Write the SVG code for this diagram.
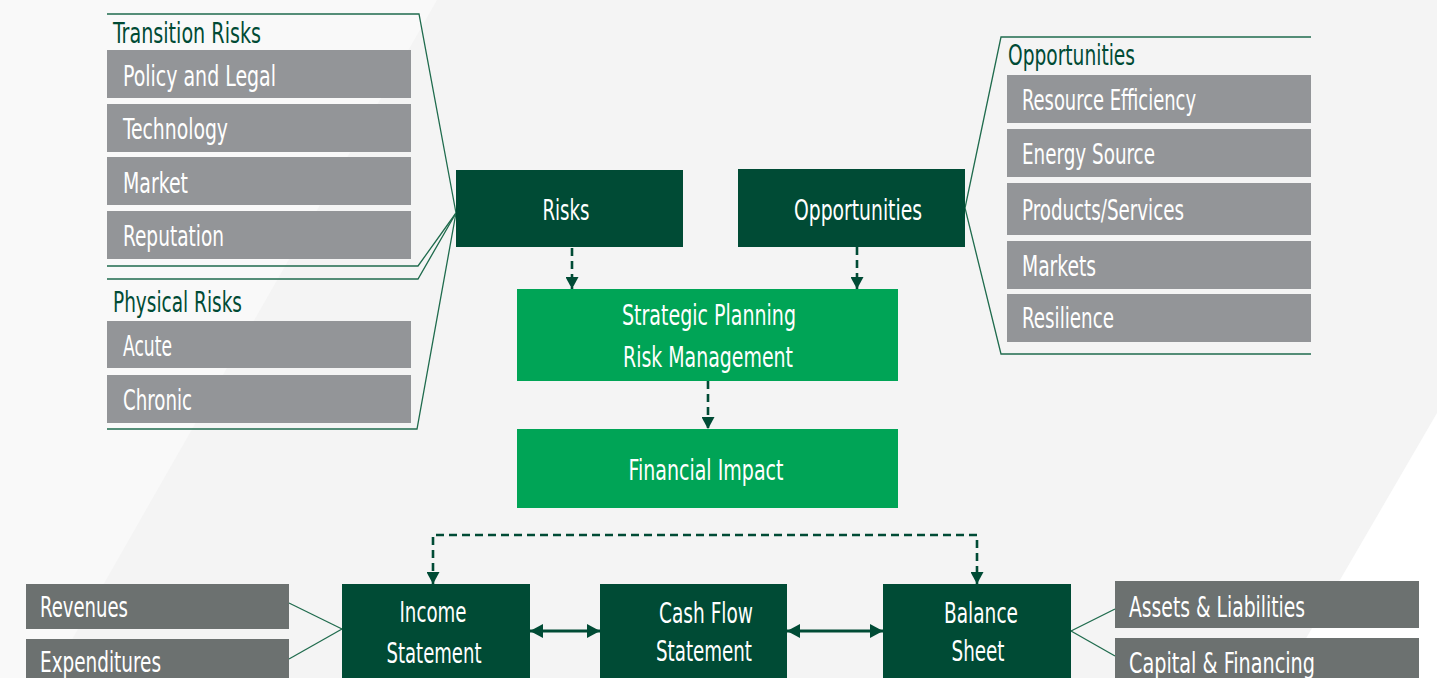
<svg xmlns="http://www.w3.org/2000/svg" width="1437" height="678" viewBox="0 0 1437 678">
  <defs>
    <style>
      text { font-family: 'Liberation Sans Narrow', 'DejaVu Sans Condensed', 'Liberation Sans', sans-serif; font-stretch: condensed; font-size: 28px; }
      .item { fill: #939598; }
      .fin { fill: #6c7170; }
      .dark { fill: #004b35; }
      .bright { fill: #00a456; }
      .lbl { fill: #ffffff; }
      .head { fill: #004b35; }
      .mid { text-anchor: middle; }
      .bracket { fill: none; stroke: #1f6b4d; stroke-width: 1.3; }
      .dash { fill: none; stroke: #004b35; stroke-width: 2.6; stroke-dasharray: 8 5; }
      .link { fill: none; stroke: #004b35; stroke-width: 3; }
      .spoke { fill: none; stroke: #1f6b4d; stroke-width: 1.3; }
    </style>
    <marker id="ah" markerWidth="13" markerHeight="13" refX="12" refY="6.5" orient="auto-start-reverse" markerUnits="userSpaceOnUse">
      <path d="M0,0 L12,6.5 L0,13 z" fill="#004b35"/>
    </marker>
    <marker id="dh" markerWidth="14" markerHeight="14" refX="13" refY="7" orient="auto-start-reverse" markerUnits="userSpaceOnUse">
      <path d="M0,0 L13,7 L0,14 z" fill="#004b35"/>
    </marker>
  </defs>

  <!-- background planes -->
  <rect x="0" y="0" width="1437" height="678" fill="#f4f4f4"/>
  <polygon points="0,0 437,0 50,678 0,678" fill="#f9f9f9"/>
  <polygon points="1437,413 1437,678 1283,678" fill="#ffffff"/>

  <!-- connectors -->
  <g id="connectors">
    <!-- brackets gathering the risk lists into the Risks box -->
    <path class="bracket" d="M107,14 H419 L456,213"/>
    <path class="bracket" d="M107,266 H418 L456,213"/>
    <path class="bracket" d="M107,279 H418 L456,213"/>
    <path class="bracket" d="M107,429 H417 L456,213"/>
    <!-- bracket around the opportunity list -->
    <path class="bracket" d="M1311,37 H1001 L965,208 L1001,354 H1311"/>
    <!-- flows into planning and impact -->
    <line class="dash" x1="572" y1="248" x2="572" y2="289" marker-end="url(#ah)"/>
    <line class="dash" x1="857" y1="247" x2="857" y2="289" marker-end="url(#ah)"/>
    <line class="dash" x1="708" y1="381" x2="708" y2="429" marker-end="url(#ah)"/>
    <path class="dash" d="M433,584 V535 H977 V584" marker-start="url(#ah)" marker-end="url(#ah)"/>
    <!-- statement links -->
    <line class="link" x1="530" y1="631" x2="600" y2="631" marker-start="url(#dh)" marker-end="url(#dh)"/>
    <line class="link" x1="787" y1="631" x2="883" y2="631" marker-start="url(#dh)" marker-end="url(#dh)"/>
    <!-- line items feeding statements -->
    <line class="spoke" x1="289" y1="603" x2="342" y2="629"/>
    <line class="spoke" x1="289" y1="659" x2="342" y2="629"/>
    <line class="spoke" x1="1071" y1="631" x2="1115" y2="609"/>
    <line class="spoke" x1="1071" y1="631" x2="1115" y2="656"/>
  </g>

  <!-- transition risks -->
  <g id="transition-risks">
    <text class="head" x="113" y="43" textLength="148" lengthAdjust="spacingAndGlyphs">Transition Risks</text>
    <rect class="item" x="107" y="50" width="304" height="48"/>
    <text class="lbl" x="123" y="86" textLength="153" lengthAdjust="spacingAndGlyphs">Policy and Legal</text>
    <rect class="item" x="107" y="104" width="304" height="48"/>
    <text class="lbl" x="123" y="139" textLength="105" lengthAdjust="spacingAndGlyphs">Technology</text>
    <rect class="item" x="107" y="157" width="304" height="48"/>
    <text class="lbl" x="123" y="193" textLength="65" lengthAdjust="spacingAndGlyphs">Market</text>
    <rect class="item" x="107" y="211" width="304" height="48"/>
    <text class="lbl" x="123" y="246" textLength="101" lengthAdjust="spacingAndGlyphs">Reputation</text>
  </g>

  <!-- physical risks -->
  <g id="physical-risks">
    <text class="head" x="113" y="312" textLength="129" lengthAdjust="spacingAndGlyphs">Physical Risks</text>
    <rect class="item" x="107" y="321" width="304" height="47"/>
    <text class="lbl" x="123" y="356" textLength="49" lengthAdjust="spacingAndGlyphs">Acute</text>
    <rect class="item" x="107" y="375" width="304" height="48"/>
    <text class="lbl" x="123" y="410" textLength="69" lengthAdjust="spacingAndGlyphs">Chronic</text>
  </g>

  <!-- opportunity list -->
  <g id="opportunity-list">
    <text class="head" x="1008" y="65" textLength="127" lengthAdjust="spacingAndGlyphs">Opportunities</text>
    <rect class="item" x="1007" y="75" width="304" height="48"/>
    <text class="lbl" x="1022" y="110" textLength="174" lengthAdjust="spacingAndGlyphs">Resource Efficiency</text>
    <rect class="item" x="1007" y="129" width="304" height="48"/>
    <text class="lbl" x="1022" y="164" textLength="133" lengthAdjust="spacingAndGlyphs">Energy Source</text>
    <rect class="item" x="1007" y="183" width="304" height="52"/>
    <text class="lbl" x="1022" y="220" textLength="162" lengthAdjust="spacingAndGlyphs">Products/Services</text>
    <rect class="item" x="1007" y="241" width="304" height="48"/>
    <text class="lbl" x="1022" y="276" textLength="74" lengthAdjust="spacingAndGlyphs">Markets</text>
    <rect class="item" x="1007" y="294" width="304" height="48"/>
    <text class="lbl" x="1022" y="328" textLength="92" lengthAdjust="spacingAndGlyphs">Resilience</text>
  </g>

  <g id="risks">
    <rect class="dark" x="456" y="170" width="227" height="77"/>
    <text class="lbl mid" x="566" y="220" textLength="47" lengthAdjust="spacingAndGlyphs">Risks</text>
  </g>

  <g id="opportunities">
    <rect class="dark" x="738" y="169" width="227" height="78"/>
    <text class="lbl mid" x="858" y="220" textLength="128" lengthAdjust="spacingAndGlyphs">Opportunities</text>
  </g>

  <g id="strategic-planning">
    <rect class="bright" x="517" y="289" width="381" height="92"/>
    <text class="lbl mid" x="709" y="325" textLength="174" lengthAdjust="spacingAndGlyphs">Strategic Planning</text>
    <text class="lbl mid" x="708" y="367" textLength="170" lengthAdjust="spacingAndGlyphs">Risk Management</text>
  </g>

  <g id="financial-impact">
    <rect class="bright" x="517" y="429" width="381" height="79"/>
    <text class="lbl mid" x="706" y="480" textLength="155" lengthAdjust="spacingAndGlyphs">Financial Impact</text>
  </g>

  <g id="revenues">
    <rect class="fin" x="26" y="584" width="263" height="45"/>
    <text class="lbl" x="40" y="617" textLength="88" lengthAdjust="spacingAndGlyphs">Revenues</text>
  </g>

  <g id="expenditures">
    <rect class="fin" x="26" y="639" width="263" height="45"/>
    <text class="lbl" x="40" y="672" textLength="121" lengthAdjust="spacingAndGlyphs">Expenditures</text>
  </g>

  <g id="income-statement">
    <rect class="dark" x="342" y="584" width="188" height="100"/>
    <text class="lbl mid" x="433" y="622" textLength="67" lengthAdjust="spacingAndGlyphs">Income</text>
    <text class="lbl mid" x="434" y="663" textLength="95" lengthAdjust="spacingAndGlyphs">Statement</text>
  </g>

  <g id="cash-flow-statement">
    <rect class="dark" x="600" y="584" width="187" height="100"/>
    <text class="lbl mid" x="706" y="623" textLength="94" lengthAdjust="spacingAndGlyphs">Cash Flow</text>
    <text class="lbl mid" x="704" y="661" textLength="96" lengthAdjust="spacingAndGlyphs">Statement</text>
  </g>

  <g id="balance-sheet">
    <rect class="dark" x="883" y="584" width="188" height="100"/>
    <text class="lbl mid" x="981" y="623" textLength="74" lengthAdjust="spacingAndGlyphs">Balance</text>
    <text class="lbl mid" x="978" y="661" textLength="53" lengthAdjust="spacingAndGlyphs">Sheet</text>
  </g>

  <g id="assets-liabilities">
    <rect class="fin" x="1115" y="581" width="304" height="47"/>
    <text class="lbl" x="1129" y="617" textLength="176" lengthAdjust="spacingAndGlyphs">Assets &amp; Liabilities</text>
  </g>

  <g id="capital-financing">
    <rect class="fin" x="1115" y="638" width="304" height="47"/>
    <text class="lbl" x="1129" y="673" textLength="186" lengthAdjust="spacingAndGlyphs">Capital &amp; Financing</text>
  </g>
</svg>
